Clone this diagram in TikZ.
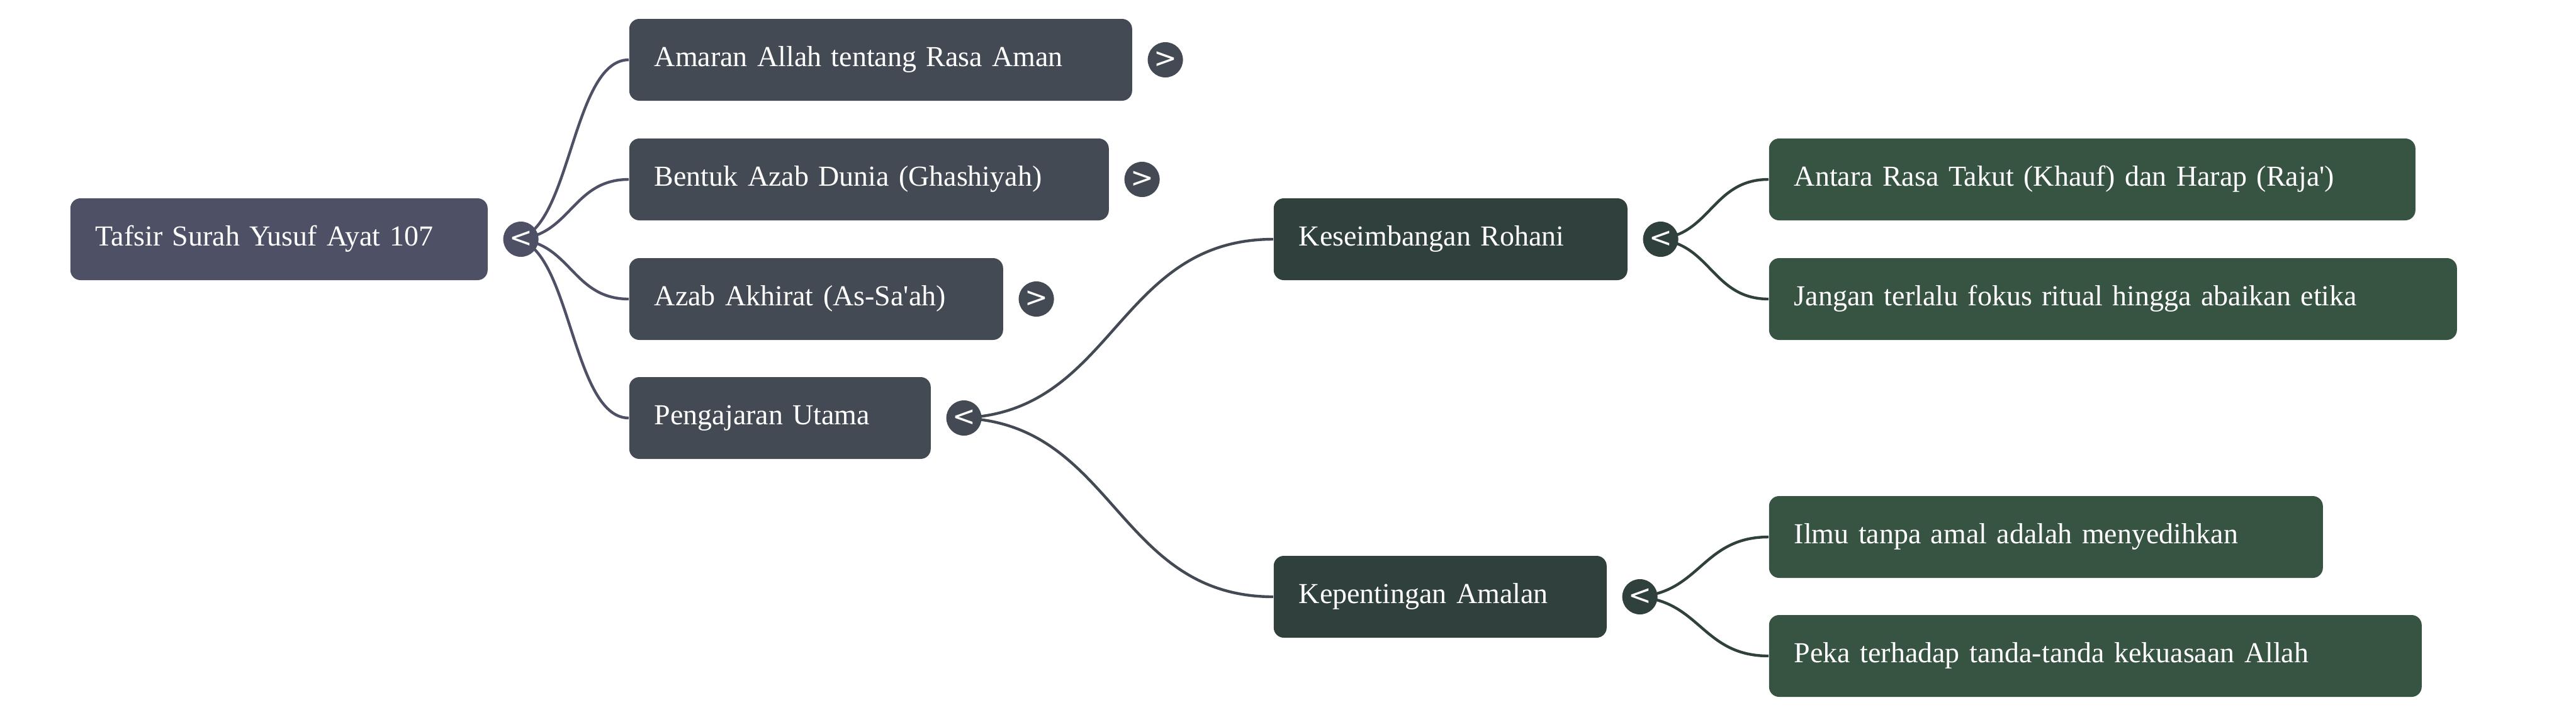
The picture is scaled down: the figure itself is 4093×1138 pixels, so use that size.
\documentclass[tikz,border=0pt]{standalone}
\usepackage{fontspec}
\setmainfont{Liberation Serif}
\newfontfamily\chevfont{DejaVu Sans}
\usetikzlibrary{calc}
\definecolor{cRoot}{HTML}{4E5166}
\definecolor{cOne}{HTML}{434A54}
\definecolor{cTwo}{HTML}{30403C}
\definecolor{cThree}{HTML}{375443}
\tikzset{
  mmbox/.style={rectangle, rounded corners=4pt, anchor=west, minimum height=32.5pt,
    inner xsep=10pt, inner ysep=0pt, text=white, align=left,
    font=\fontsize{11.5}{14}\selectfont, text height=8pt, text depth=3pt},
  mmtog/.style={circle, minimum size=14pt, inner sep=0pt, text=white,
    font=\chevfont\fontsize{11}{11}\selectfont},
  mmline/.style={line width=1.1pt},
}
\newcommand\mmlink[3]{\draw[mmline,#1] let \p1=(#2), \p2=(#3) in (\p1) .. controls ({0.5*\x1+0.5*\x2},\y1) and ({0.5*\x1+0.5*\x2},\y2) .. (\p2);}
\begin{document}
\begin{tikzpicture}[x=0.25pt,y=-0.25pt]
\useasboundingbox (0,0) rectangle (4093,1138);
% boxes
\node[mmbox, fill=cRoot, text width=145.75pt] (root) at (111,380) {Tafsir Surah Yusuf Ayat 107};
\node[mmbox, fill=cOne, text width=179.75pt] (amaran) at (999,95) {Amaran Allah tentang Rasa Aman};
\node[mmbox, fill=cOne, text width=170.5pt] (bentuk) at (999,285) {Bentuk Azab Dunia (Ghashiyah)};
\node[mmbox, fill=cOne, text width=128.5pt] (azab) at (999,475) {Azab Akhirat (As-Sa\textquotesingle ah)};
\node[mmbox, fill=cOne, text width=99.75pt] (ajar) at (999,664) {Pengajaran Utama};
\node[mmbox, fill=cTwo, text width=120.5pt] (imbang) at (2023,380) {Keseimbangan Rohani};
\node[mmbox, fill=cTwo, text width=112.25pt] (amal) at (2023,948) {Kepentingan Amalan};
\node[mmbox, fill=cThree, text width=236.75pt] (antara) at (2810,285) {Antara Rasa Takut (Khauf) dan Harap (Raja\textquotesingle)};
\node[mmbox, fill=cThree, text width=253.25pt] (jangan) at (2810,475) {Jangan terlalu fokus ritual hingga abaikan etika};
\node[mmbox, fill=cThree, text width=200pt] (ilmu) at (2810,853) {Ilmu tanpa amal adalah menyedihkan};
\node[mmbox, fill=cThree, text width=239.25pt] (peka) at (2810,1042) {Peka terhadap tanda-tanda kekuasaan Allah};
% link sources
\coordinate (rootS) at ([xshift=9.75pt]root.east);
\coordinate (ajarS) at ([xshift=9.75pt]ajar.east);
\coordinate (imbangS) at ([xshift=9.75pt]imbang.east);
\coordinate (amalS) at ([xshift=9.75pt]amal.east);
% links
\mmlink{cRoot}{rootS}{amaran.west}
\mmlink{cRoot}{rootS}{bentuk.west}
\mmlink{cRoot}{rootS}{azab.west}
\mmlink{cRoot}{rootS}{ajar.west}
\mmlink{cOne}{ajarS}{imbang.west}
\mmlink{cOne}{ajarS}{amal.west}
\mmlink{cTwo}{imbangS}{antara.west}
\mmlink{cTwo}{imbangS}{jangan.west}
\mmlink{cTwo}{amalS}{ilmu.west}
\mmlink{cTwo}{amalS}{peka.west}
% toggles
\node[mmtog, fill=cRoot] (rootT) at ([xshift=13pt]root.east) {<};
\node[mmtog, fill=cOne] (amaranT) at ([xshift=13pt]amaran.east) {>};
\node[mmtog, fill=cOne] (bentukT) at ([xshift=13pt]bentuk.east) {>};
\node[mmtog, fill=cOne] (azabT) at ([xshift=13pt]azab.east) {>};
\node[mmtog, fill=cOne] (ajarT) at ([xshift=13pt]ajar.east) {<};
\node[mmtog, fill=cTwo] (imbangT) at ([xshift=13pt]imbang.east) {<};
\node[mmtog, fill=cTwo] (amalT) at ([xshift=13pt]amal.east) {<};
\end{tikzpicture}
\end{document}
